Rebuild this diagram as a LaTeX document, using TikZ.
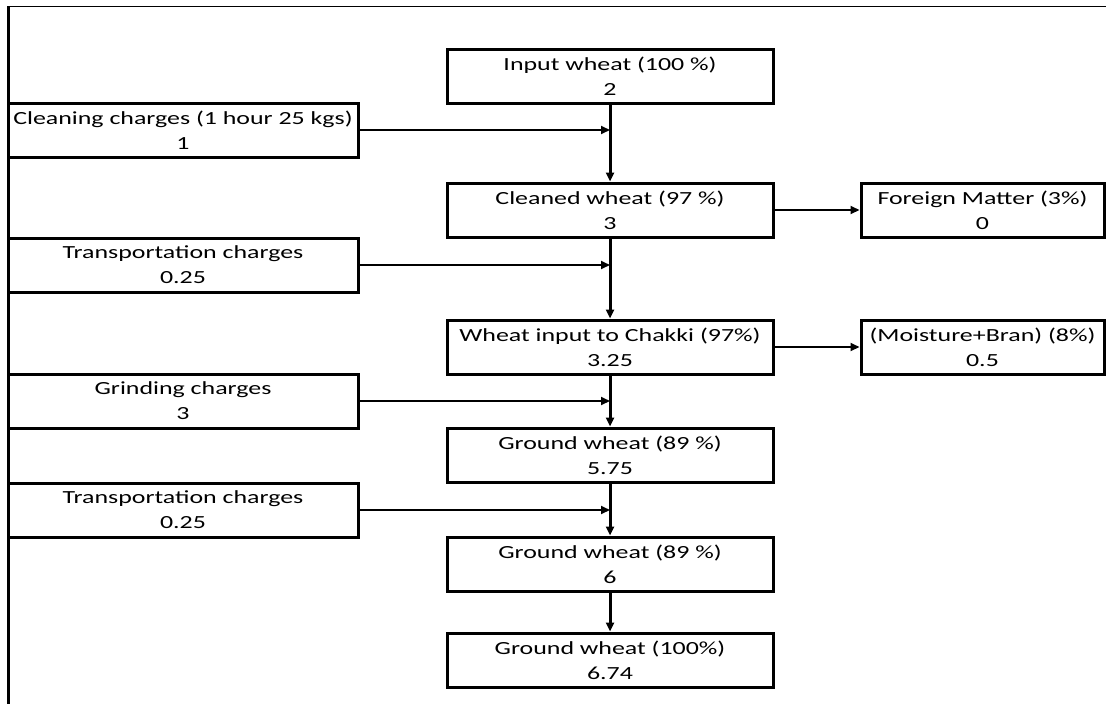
\documentclass[tikz,border=0pt]{standalone}
\usepackage{fontspec}
\setmainfont{Carlito}[FakeStretch=1.4]
\usetikzlibrary{arrows.meta}

\begin{document}
\begin{tikzpicture}
  [x=1pt,y=-1pt,>={Triangle[length=9pt,width=8pt]},
   every node/.style={draw,line width=3pt,align=center,inner sep=0pt,
     font=\fontsize{18.5}{25}\selectfont},
   wbox/.style={minimum width=326,minimum height=54},
   cbox/.style={minimum width=350,minimum height=54},
   lbox/.style={minimum width=243,minimum height=54}]
  \useasboundingbox (0,0) rectangle (1106,704);
  \draw [line width=3pt] (8,6) -- (8,704);
  \draw [line width=1pt] (8,6) -- (1106,6);
  \node[wbox] (in) at (610,76) {Input wheat (100 \%)\\2};
  \node[cbox] (clean) at (183,130) {Cleaning charges (1 hour 25 kgs)\\1};
  \node[wbox] (cleaned) at (610,210) {Cleaned wheat (97 \%)\\3};
  \node[lbox] (foreign) at (982.5,210) {Foreign Matter (3\%)\\0};
  \node[cbox] (trans1) at (183,265) {Transportation charges\\0.25};
  \node[wbox] (chakki) at (610,347) {Wheat input to Chakki (97\%)\\3.25};
  \node[lbox] (moist) at (982.5,347) {(Moisture+Bran) (8\%)\\0.5};
  \node[cbox] (grind) at (183,401) {Grinding charges\\3};
  \node[wbox] (ground1) at (610,455) {Ground wheat (89 \%)\\5.75};
  \node[cbox] (trans2) at (183,510) {Transportation charges\\0.25};
  \node[wbox] (ground2) at (610,564) {Ground wheat (89 \%)\\6};
  \node[wbox] (ground3) at (610,660) {Ground wheat (100\%)\\6.74};
  % joins on the main line
  \coordinate (j1) at (clean -| in);
  \coordinate (j2) at (trans1 -| in);
  \coordinate (j3) at (grind -| in);
  \coordinate (j4) at (trans2 -| in);
 \path [->,draw,line width=3pt]
  (in) edge (cleaned)
  (cleaned) edge (chakki)
  (chakki) edge (ground1)
  (ground1) edge (ground2)
  (ground2) edge (ground3)
;
 \path [->,draw,line width=2pt]
  (clean) edge (j1)
  (trans1) edge (j2)
  (grind) edge (j3)
  (trans2) edge (j4)
  (cleaned) edge (foreign)
  (chakki) edge (moist)
;
\end{tikzpicture}
\end{document}
